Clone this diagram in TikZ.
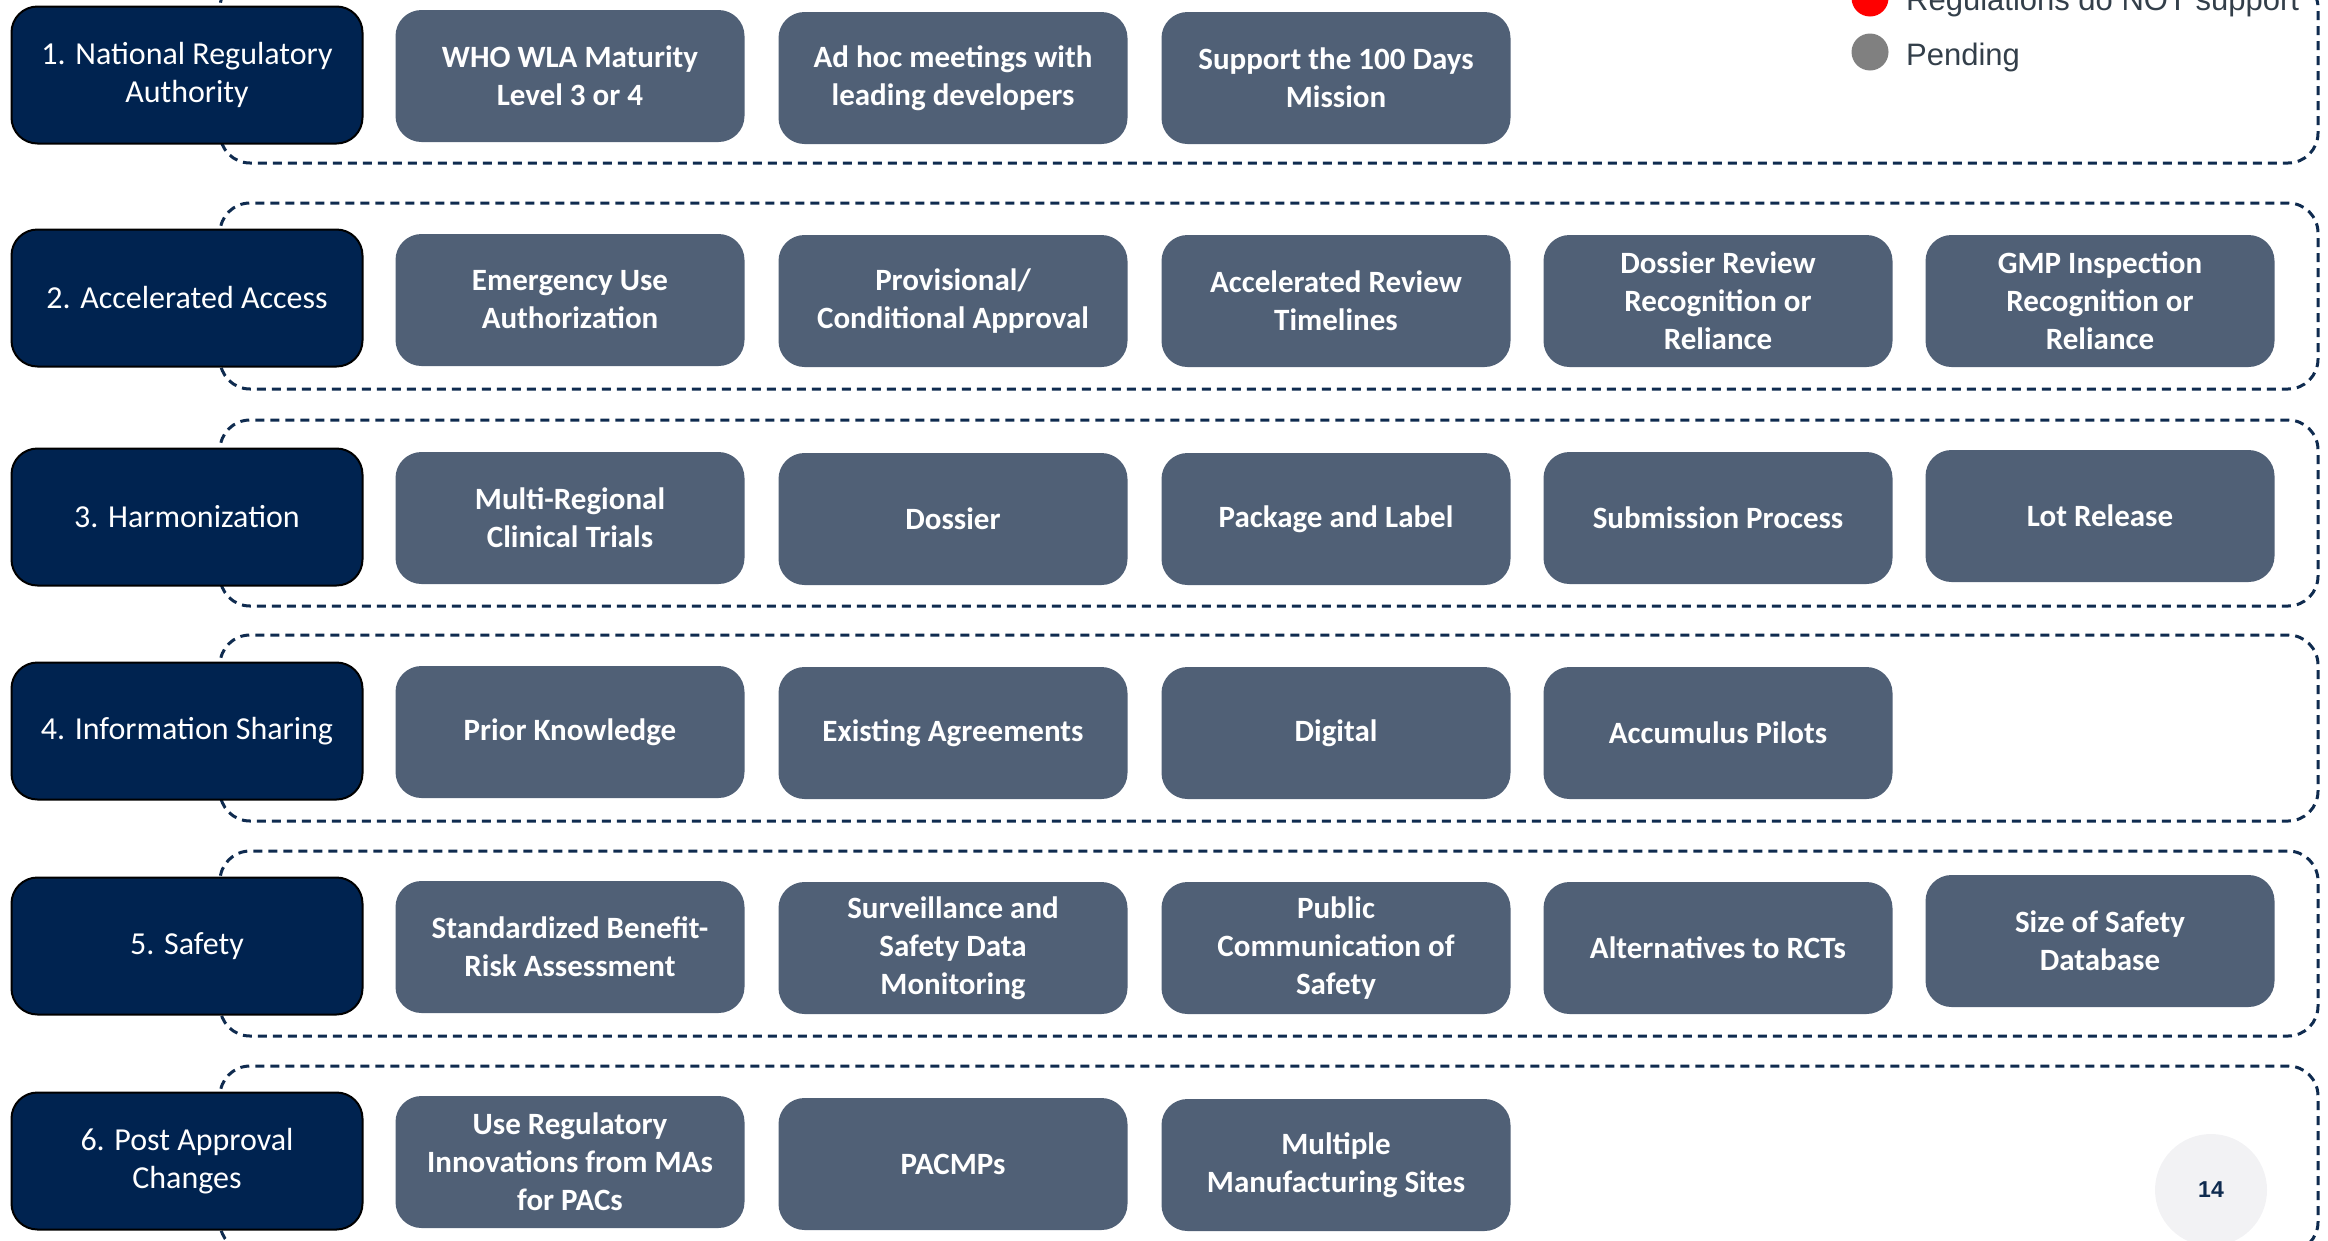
\documentclass[tikz,border=0pt]{standalone}
\usepackage{fontspec}
\setmainfont{Carlito}
\newfontfamily\legendfont{Liberation Sans}

\definecolor{navy}{RGB}{0,35,80}
\definecolor{slate}{RGB}{80,96,118}
\definecolor{frameblue}{RGB}{15,43,79}
\definecolor{legendgrey}{RGB}{51,63,74}

\begin{document}
\begin{tikzpicture}[x=1pt, y=-1pt,
  cat/.style={rectangle, rounded corners=26pt, draw=black, line width=2pt, fill=navy, text=white,
    minimum width=351pt, minimum height=137pt, inner sep=0pt, align=center,
    font=\fontsize{32}{38}\selectfont},
  item/.style={rectangle, rounded corners=26pt, fill=slate, text=white,
    minimum width=349pt, minimum height=132pt, inner sep=0pt, align=center,
    font=\fontsize{31}{38}\selectfont\bfseries},
  frame/.style={draw=frameblue, line width=3pt, dash pattern=on 9pt off 6pt, rounded corners=30pt}]
  \useasboundingbox (0,0) rectangle (2328,1240);
  \clip (0,0) rectangle (2328,1240);

  % dashed row frames
  \draw[frame] (220,-22) rectangle (2318,163);
  \draw[frame] (220,203) rectangle (2318,389);
  \draw[frame] (220,420) rectangle (2318,606);
  \draw[frame] (220,635) rectangle (2318,821);
  \draw[frame] (220,851) rectangle (2318,1036);
  \draw[frame] (220,1066) rectangle (2318,1252);

  % legend
  \fill[red] (1870,-2) circle (18.5);
  \fill[gray] (1870,52) circle (18.5);
  \node[anchor=base west, inner sep=0pt, text=legendgrey, font=\legendfont\fontsize{31}{36}\selectfont] (leg1) at (1906,10) {Regulations do NOT support};
  \node[anchor=base west, inner sep=0pt, text=legendgrey, font=\legendfont\fontsize{31}{36}\selectfont] (leg2) at (1906,65) {Pending};

  % row 1
  \node[cat] (1) at (187,75) {1. National Regulatory\\Authority};
  \node[item] (1a) at (570,76) {WHO WLA Maturity\\Level 3 or 4};
  \node[item] (1b) at (953,78) {Ad hoc meetings with\\leading developers};
  \node[item] (1c) at (1336,78) {Support the 100 Days\\Mission};

  % row 2
  \node[cat] (2) at (187,298) {2. Accelerated Access};
  \node[item] (2a) at (570,300) {Emergency Use\\Authorization};
  \node[item] (2b) at (953,301) {Provisional/\\Conditional Approval};
  \node[item] (2c) at (1336,301) {Accelerated Review\\Timelines};
  \node[item] (2d) at (1718,301) {Dossier Review\\Recognition or\\Reliance};
  \node[item] (2e) at (2100,301) {GMP Inspection\\Recognition or\\Reliance};

  % row 3
  \node[cat] (3) at (187,517) {3. Harmonization};
  \node[item] (3a) at (570,518) {Multi-Regional\\Clinical Trials};
  \node[item] (3b) at (953,519) {Dossier};
  \node[item] (3c) at (1336,519) {Package and Label};
  \node[item] (3d) at (1718,518) {Submission Process};
  \node[item] (3e) at (2100,516) {Lot Release};

  % row 4
  \node[cat] (4) at (187,731) {4. Information Sharing};
  \node[item] (4a) at (570,732) {Prior Knowledge};
  \node[item] (4b) at (953,733) {Existing Agreements};
  \node[item] (4c) at (1336,733) {Digital};
  \node[item] (4d) at (1718,733) {Accumulus Pilots};

  % row 5
  \node[cat] (5) at (187,946) {5. Safety};
  \node[item] (5a) at (570,947) {Standardized Benefit-\\Risk Assessment};
  \node[item] (5b) at (953,948) {Surveillance and\\Safety Data\\Monitoring};
  \node[item] (5c) at (1336,948) {Public\\Communication of\\Safety};
  \node[item] (5d) at (1718,948) {Alternatives to RCTs};
  \node[item] (5e) at (2100,941) {Size of Safety\\Database};

  % row 6
  \node[cat] (6) at (187,1161) {6. Post Approval\\Changes};
  \node[item] (6a) at (570,1162) {Use Regulatory\\Innovations from MAs\\for PACs};
  \node[item] (6b) at (953,1164) {PACMPs};
  \node[item] (6c) at (1336,1165) {Multiple\\Manufacturing Sites};

  % page number
  \node[circle, fill={rgb,255:red,242;green,242;blue,244}, minimum size=112pt, inner sep=0pt,
    text=frameblue, font=\legendfont\bfseries\fontsize{23}{26}\selectfont] (page) at (2211,1190) {14};
\end{tikzpicture}
\end{document}
